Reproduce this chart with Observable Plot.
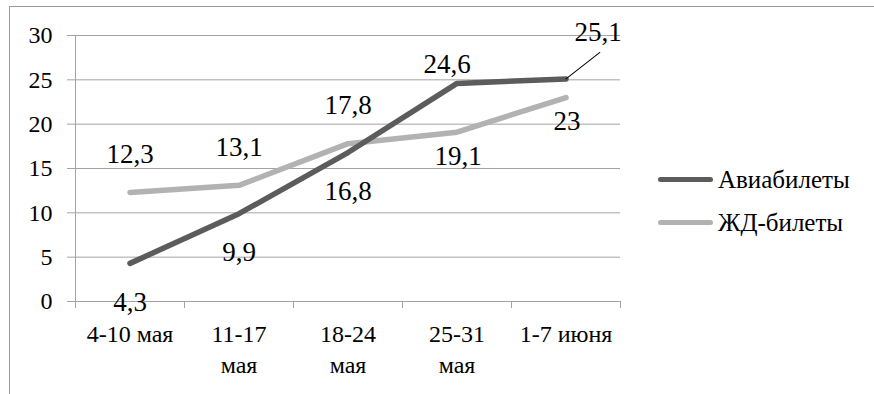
<!DOCTYPE html>
<html><head><meta charset="utf-8">
<style>
@font-face{font-family:"ChartSerif";src:local("Liberation Serif"),local("LiberationSerif"),local("LiberationSerif-Regular");}
</style>
<script src="https://cdn.jsdelivr.net/npm/d3@7"></script>
<script src="https://cdn.jsdelivr.net/npm/@observablehq/plot@0.6"></script>
</head>
<body style="margin:0;background:#fff;font-family:'Liberation Serif' !important">
<div id="wrap" style="position:relative;width:874px;height:394px;overflow:hidden;font-family:'Liberation Serif',ChartSerif !important;color:#000;">
  <div style="position:absolute;left:9px;top:6px;width:900px;height:400px;border-top:1px solid #9a9a9a;border-left:1px solid #9a9a9a;"></div>
  <div id="chart" style="position:absolute;left:0;top:0;font-family:'Liberation Serif',ChartSerif !important"></div>
  <div id="legend" style="position:absolute;left:658px;top:158px;font-size:25px;font-family:'Liberation Serif',ChartSerif !important"></div>
</div>
<script>
const categories = ["4-10 мая", "11-17\nмая", "18-24\nмая", "25-31\nмая", "1-7 июня"];
const aviaValues = [4.3, 9.9, 16.8, 24.6, 25.1];
const railValues = [12.3, 13.1, 17.8, 19.1, 23];
const seriesNames = ["Авиабилеты", "ЖД-билеты"];
const yTicks = [0, 5, 10, 15, 20, 25, 30];

const colors = ["#5c5c5c", "#b2b2b2"];
const avia = aviaValues.map((v, i) => ({i, value: v}));
const rail = railValues.map((v, i) => ({i, value: v}));
const fmt = v => String(v).replace(".", ",");
const boundaries = d3.range(categories.length + 1).map(k => k - 0.5);
const font = "Liberation Serif";

const sel = (arr, idx) => arr.filter(d => idx.includes(d.i));
const labelStyle = {x: "i", y: "value", text: d => fmt(d.value), fontSize: 27, fill: "#000", fontFamily: font};

const chart = Plot.plot({
  width: 874, height: 394,
  marginLeft: 75, marginRight: 254, marginTop: 35, marginBottom: 93,
  x: {type: "linear", domain: [-0.5, categories.length - 0.5]},
  y: {domain: [0, 30]},
  style: `font-family: 'Liberation Serif'; font-size: 24px; color: #000; background: transparent; overflow: visible;`,
  marks: [
    Plot.ruleY(yTicks, {stroke: "#a3a3a3", strokeWidth: 1}),
    Plot.ruleX([-0.5], {stroke: "#a3a3a3", strokeWidth: 1}),
    Plot.axisY({ticks: yTicks, tickSize: 8, tickPadding: 15, label: null, stroke: "#a3a3a3", strokeOpacity: 1, fontSize: 24, fontFamily: font}),
    Plot.axisX({ticks: boundaries, tickSize: 7, tickFormat: () => "", label: null, stroke: "#a3a3a3", strokeOpacity: 1}),
    Plot.axisX({ticks: d3.range(categories.length), tickSize: 0, tickPadding: 18, tickFormat: i => categories[i], label: null, fontSize: 24, lineHeight: 1.3, fontFamily: font}),
    Plot.line(rail, {x: "i", y: "value", stroke: colors[1], strokeWidth: 5.5, strokeLinecap: "round", strokeLinejoin: "round"}),
    Plot.line(avia, {x: "i", y: "value", stroke: colors[0], strokeWidth: 5.5, strokeLinecap: "round", strokeLinejoin: "round"}),
    Plot.text(sel(avia, [0, 1, 2]), {...labelStyle, dy: 39}),
    Plot.text(sel(avia, [3]), {...labelStyle, dx: -10, dy: -19}),
    Plot.vector(sel(avia, [4]), {x: "i", y: "value", rotate: 52, length: 43, anchor: "start", stroke: "#000", strokeWidth: 1,
      shape: {draw(context, l) { context.moveTo(0, 0); context.lineTo(0, -l); }}}),
    Plot.text(sel(avia, [4]), {...labelStyle, dx: 32, dy: -47}),
    Plot.text(sel(rail, [0, 1, 2]), {...labelStyle, dy: -38}),
    Plot.text(sel(rail, [3, 4]), {...labelStyle, dx: 1, dy: 24})
  ]
});
chart.querySelectorAll("text, tspan, g").forEach(t => t.style.setProperty("font-family", "'Liberation Serif', ChartSerif", "important"));
chart.style.setProperty("font-family", "'Liberation Serif', ChartSerif", "important");
document.getElementById("chart").appendChild(chart);

const legend = document.getElementById("legend");
seriesNames.forEach((name, k) => {
  const item = document.createElement("div");
  item.style.cssText = "display:flex;align-items:center;height:43px;";
  const sw = document.createElement("span");
  sw.style.cssText = `width:55px;height:5.5px;border-radius:3px;margin-right:5px;background:${colors[k]}`;
  const t = document.createElement("span");
  t.textContent = name;
  t.style.setProperty("font-family", "'Liberation Serif', ChartSerif", "important");
  item.appendChild(sw); item.appendChild(t);
  legend.appendChild(item);
});
</script>
</body></html>
